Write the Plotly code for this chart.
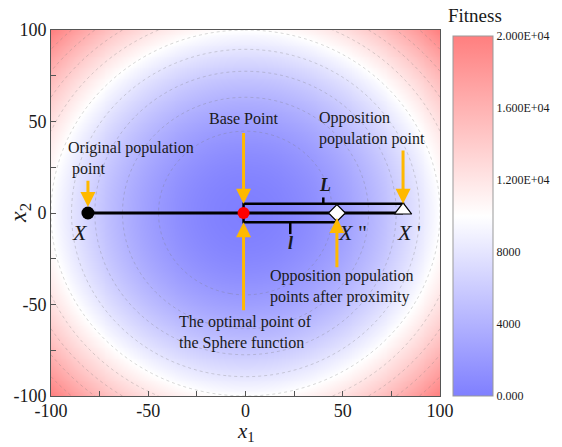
import numpy as np
import plotly.graph_objects as go

# ---- data ----
x1_grid = np.linspace(-100, 100, 201)
x2_grid = np.linspace(-100, 100, 201)
X1, X2 = np.meshgrid(x1_grid, x2_grid)
fitness = X1 ** 2 + X2 ** 2  # Sphere function

x_orig = -81     # original population point X
x_base = -1      # base point
x_prox = 47      # opposition point after proximity X''
x_opp = 81       # opposition population point X'
y_pts = 0
y_upper = 5      # L bracket
y_lower = -5     # l bracket

cb_tickvals = [0, 4000, 8000, 12000, 16000, 20000]
cb_ticktext = ["0.000", "4000", "8000", "1.200E+04", "1.600E+04", "2.000E+04"]
ax_tickvals = [-100, -50, 0, 50, 100]
ax_ticktext = ["-100", "-50", "0", "50", "100"]

FONT = "Liberation Serif"
ORANGE = "#FFB900"
TXT = "#1a1a1a"

fig = go.Figure()

fig.add_trace(go.Heatmap(
    x=x1_grid, y=x2_grid, z=fitness, zmin=0, zmax=20000, zsmooth="best",
    colorscale=[[0, "#7F7FFF"], [0.5, "#FFFFFF"], [1, "#FF7F7F"]],
    colorbar=dict(
        tickvals=cb_tickvals, ticktext=cb_ticktext, ticks="",
        tickfont=dict(family=FONT, size=12, color=TXT),
        thickness=40, len=360 / 366, lenmode="fraction",
        y=0, yanchor="bottom", x=(453 - 51) / 389, xanchor="left",
        xpad=0, ypad=0, outlinecolor="#999999", outlinewidth=1,
    ),
    hoverinfo="skip",
))

fig.add_trace(go.Contour(
    x=x1_grid, y=x2_grid, z=fitness, showscale=False,
    contours=dict(start=2000, end=20000, size=2000, coloring="none"),
    line=dict(color="rgba(120,120,120,0.5)", width=0.6, dash="dot"),
    hoverinfo="skip",
))

# main line X -> X'
fig.add_trace(go.Scatter(x=[x_orig, x_opp], y=[y_pts, y_pts], mode="lines",
                         line=dict(color="black", width=3), showlegend=False, hoverinfo="skip"))
# L bracket
L_mid = (x_base + x_opp) / 2
fig.add_trace(go.Scatter(x=[x_base, x_base, x_opp, x_opp], y=[y_pts, y_upper, y_upper, y_pts],
                         mode="lines", line=dict(color="black", width=2.5),
                         showlegend=False, hoverinfo="skip"))
fig.add_trace(go.Scatter(x=[L_mid, L_mid], y=[y_upper, y_upper + 3.5], mode="lines",
                         line=dict(color="black", width=2.5), showlegend=False, hoverinfo="skip"))
# l bracket
l_mid = (x_base + x_prox) / 2
fig.add_trace(go.Scatter(x=[x_base, x_base, x_prox, x_prox], y=[y_pts, y_lower, y_lower, y_pts],
                         mode="lines", line=dict(color="black", width=2.5),
                         showlegend=False, hoverinfo="skip"))
fig.add_trace(go.Scatter(x=[l_mid, l_mid], y=[y_lower, y_lower - 6.5], mode="lines",
                         line=dict(color="black", width=2.5), showlegend=False, hoverinfo="skip"))

# markers
fig.add_trace(go.Scatter(x=[x_orig], y=[y_pts], mode="markers",
                         marker=dict(symbol="circle", size=13, color="black"),
                         showlegend=False, hoverinfo="skip"))
fig.add_trace(go.Scatter(x=[x_base], y=[y_pts], mode="markers",
                         marker=dict(symbol="circle", size=12, color="#FF0000"),
                         showlegend=False, hoverinfo="skip"))
fig.add_trace(go.Scatter(x=[x_prox], y=[y_pts], mode="markers",
                         marker=dict(symbol="diamond", size=13, color="white",
                                     line=dict(color="black", width=1.2)),
                         showlegend=False, hoverinfo="skip"))
fig.add_trace(go.Scatter(x=[x_opp], y=[y_pts + 1.5], mode="markers",
                         marker=dict(symbol="triangle-up", size=15, color="white",
                                     line=dict(color="black", width=1.2)),
                         showlegend=False, hoverinfo="skip"))

annotations = []

def arrow(x, y, ay, standoff=0):
    annotations.append(dict(x=x, y=y, ax=x, ay=ay, xref="x", yref="y", axref="x", ayref="y",
                            text="", showarrow=True, arrowhead=2, arrowsize=1,
                            arrowwidth=3, arrowcolor=ORANGE, standoff=standoff))

arrow(x_orig, y_pts, 18.5, standoff=6)
arrow(x_base, y_upper, 44.5)
arrow(x_base, y_lower, -54)
arrow(x_opp, y_upper, 35)
arrow(x_prox, y_pts, -30.5, standoff=5)

def label(x, y, text, size=16, xanchor="left"):
    annotations.append(dict(x=x, y=y, xref="x", yref="y", text=text, showarrow=False,
                            xanchor=xanchor, yanchor="middle",
                            align=xanchor if xanchor != "center" else "center",
                            font=dict(family=FONT, size=size, color=TXT)))

label(-92.3, 29.8, "Original population<br> point")
label(-0.8, 51.4, "Base Point", xanchor="center")
label(36.9, 46.2, "Opposition<br>population point")
label(11.6, -40.2, "Opposition population<br>points after proximity")
label(-35.2, -65.3, "The optimal point of<br>the Sphere function")

label(-85, -10.4, "<i>X</i>", size=22, xanchor="center")
label(55, -10.4, "<i>X</i> \"", size=22, xanchor="center")
label(84, -10.4, "<i>X</i> '", size=22, xanchor="center")
label(40.9, 15.3, "<b><i>L</i></b>", size=18, xanchor="center")
label(22.9, -16.4, "<b><i>l</i></b>", size=18, xanchor="center")

annotations.append(dict(x=(475 - 51) / 389, y=(396 - 15) / 366, xref="paper", yref="paper",
                        text="Fitness", showarrow=False, xanchor="center", yanchor="middle",
                        font=dict(family=FONT, size=19, color=TXT)))
# axis titles
annotations.append(dict(x=0.5, y=(396 - 447) / 366, xref="paper", yref="paper",
                        text="<i>x</i><sub>1</sub>", showarrow=False, xanchor="center", yanchor="bottom",
                        font=dict(family=FONT, size=21, color=TXT)))
annotations.append(dict(x=(20 - 51) / 389, y=0.5, xref="paper", yref="paper", textangle=-90,
                        text="<i>x</i><sub>2</sub>", showarrow=False, xanchor="center", yanchor="middle",
                        font=dict(family=FONT, size=24, color=TXT)))

axis_common = dict(
    range=[-100, 100], tickvals=ax_tickvals, ticktext=ax_ticktext,
    ticks="inside", ticklen=5, tickcolor="#555555", tickwidth=1,
    minor=dict(ticks="inside", dtick=25, ticklen=5, tickcolor="#555555", tickwidth=1),
    showline=True, linecolor="#555555", linewidth=1, mirror=True,
    showgrid=False, zeroline=False, automargin=False,
    tickfont=dict(family=FONT, size=18, color=TXT),
)

fig.update_layout(
    width=562, height=447,
    margin=dict(l=51, r=122, t=30, b=51),
    paper_bgcolor="white", plot_bgcolor="white",
    font=dict(family=FONT, color=TXT),
    xaxis=dict(**axis_common, ticklabelstandoff=-2),
    yaxis=dict(**axis_common),
    annotations=annotations,
    showlegend=False,
)

fig.write_html("out.html")
